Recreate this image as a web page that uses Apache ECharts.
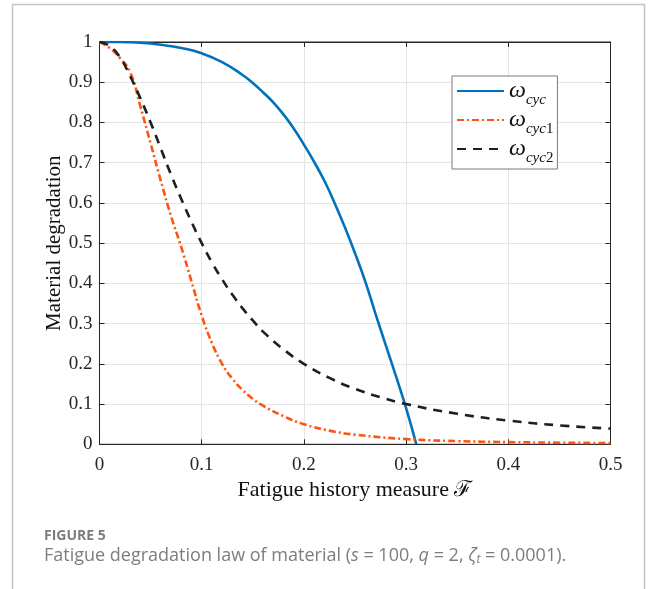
<!DOCTYPE html>
<html>
<head>
<meta charset="utf-8">
<script src="https://cdn.jsdelivr.net/npm/echarts@6/dist/echarts.min.js"></script>
<style>
  html, body { margin: 0; padding: 0; background: #fff; }
  #chart { width: 656px; height: 589px; }
</style>
</head>
<body>
<div id="chart"></div>
<script>
// Fatigue history measure F and degradation values for each law
const cycF  = [0, 0.02, 0.04, 0.06, 0.08, 0.10, 0.12, 0.14, 0.15, 0.16, 0.17, 0.18, 0.19, 0.20, 0.21, 0.22, 0.23, 0.24, 0.25, 0.26, 0.27, 0.28, 0.29, 0.30, 0.31];
const cycW  = [1, 1.0, 0.998, 0.993, 0.985, 0.972, 0.95, 0.918, 0.898, 0.875, 0.85, 0.82, 0.785, 0.745, 0.702, 0.655, 0.6, 0.54, 0.475, 0.405, 0.325, 0.247, 0.17, 0.09, 0.0];

const cyc1F = [0, 0.01, 0.02, 0.03, 0.04, 0.05, 0.06, 0.07, 0.08, 0.09, 0.10, 0.11, 0.12, 0.13, 0.14, 0.15, 0.16, 0.18, 0.20, 0.225, 0.25, 0.30, 0.35, 0.40, 0.45, 0.50];
const cyc1W = [1, 0.985, 0.96, 0.925, 0.84, 0.748, 0.655, 0.567, 0.49, 0.405, 0.32, 0.252, 0.2, 0.163, 0.135, 0.113, 0.096, 0.07, 0.05, 0.034, 0.024, 0.013, 0.008, 0.0055, 0.004, 0.003];

const cyc2F = [0, 0.01, 0.02, 0.03, 0.04, 0.05, 0.06, 0.07, 0.08, 0.09, 0.10, 0.11, 0.12, 0.13, 0.14, 0.15, 0.16, 0.18, 0.20, 0.225, 0.25, 0.275, 0.30, 0.35, 0.40, 0.45, 0.50];
const cyc2W = [1, 0.99, 0.962, 0.915, 0.86, 0.8, 0.735, 0.67, 0.61, 0.553, 0.5, 0.452, 0.41, 0.372, 0.338, 0.308, 0.28, 0.236, 0.2, 0.165, 0.138, 0.117, 0.1, 0.076, 0.059, 0.047, 0.039];

const xTicks = [0, 0.1, 0.2, 0.3, 0.4, 0.5];
const yTicks = [0, 0.1, 0.2, 0.3, 0.4, 0.5, 0.6, 0.7, 0.8, 0.9, 1];

const pairs = (xs, ys) => xs.map((x, i) => [x, ys[i]]);

const SERIF = '"Liberation Serif", "DejaVu Serif", serif';
const SANS = '"Open Sans", "Noto Sans", sans-serif';
const AX = '#262626';

const names = ['ω_cyc', 'ω_cyc1', 'ω_cyc2'];

const legendRich = {
  w: { fontFamily: SERIF, fontStyle: 'italic', fontSize: 24, color: '#111', lineHeight: 20 },
  s: { fontFamily: SERIF, fontStyle: 'italic', fontSize: 15, color: '#111', lineHeight: 20, verticalAlign: 'bottom', padding: [0, 0, -7, 0] },
  n: { fontFamily: SERIF, fontSize: 15, color: '#111', lineHeight: 20, verticalAlign: 'bottom', padding: [0, 0, -7, 0] }
};

const chart = echarts.init(document.getElementById('chart'), null, { renderer: 'canvas' });

chart.setOption({
  animation: false,
  backgroundColor: '#fff',
  grid: { left: 99.5, right: 45.5, top: 42, bottom: 144.7, containLabel: false,
          show: true, borderColor: AX, borderWidth: 1, backgroundColor: 'transparent' },
  xAxis: [{
    type: 'value', min: 0, max: 0.5, interval: 0.1, position: 'bottom',
    name: 'Fatigue history measure ℱ', nameLocation: 'middle', nameGap: 31,
    nameTextStyle: { fontFamily: SERIF, fontSize: 22, color: '#111' },
    axisLine: { show: true, onZero: false, lineStyle: { color: AX, width: 1 } },
    axisTick: { show: true, inside: true, length: 5, lineStyle: { color: AX } },
    axisLabel: { fontFamily: SERIF, fontSize: 19, color: AX, margin: 11,
      formatter: v => { const r = +v.toFixed(1); return xTicks.includes(r) ? String(r) : ''; } },
    splitLine: { show: true, lineStyle: { color: '#e4e4e4', width: 1 } }
  }, {
    type: 'value', min: 0, max: 0.5, interval: 0.1, position: 'top',
    axisLine: { show: true, onZero: false, lineStyle: { color: AX, width: 1 } },
    axisTick: { show: true, inside: true, length: 5, lineStyle: { color: AX } },
    axisLabel: { show: false }, splitLine: { show: false }
  }],
  yAxis: [{
    type: 'value', min: 0, max: 1, interval: 0.1, position: 'left',
    name: 'Material degradation', nameLocation: 'middle', nameGap: 35, nameMoveOverlap: false,
    nameTextStyle: { fontFamily: SERIF, fontSize: 21, color: '#111' },
    axisLine: { show: true, onZero: false, lineStyle: { color: AX, width: 1 } },
    axisTick: { show: true, inside: true, length: 5, lineStyle: { color: AX } },
    axisLabel: { fontFamily: SERIF, fontSize: 19, color: AX, margin: 7,
      formatter: v => { const r = +v.toFixed(1); return yTicks.includes(r) ? String(r) : ''; } },
    splitLine: { show: true, lineStyle: { color: '#e4e4e4', width: 1 } }
  }, {
    type: 'value', min: 0, max: 1, interval: 0.1, position: 'right',
    axisLine: { show: true, onZero: false, lineStyle: { color: AX, width: 1 } },
    axisTick: { show: true, inside: true, length: 5, lineStyle: { color: AX } },
    axisLabel: { show: false }, splitLine: { show: false }
  }],
  legend: {
    orient: 'vertical', left: 452, top: 76,
    itemWidth: 47, itemHeight: 14, itemGap: 0,
    padding: [3, 4, 3, 4],
    backgroundColor: '#fff', borderColor: '#7a7a7a', borderWidth: 1,
    itemStyle: { opacity: 0 },
    data: names,
    formatter: n => n === 'ω_cyc' ? '{w|ω}{s|cyc}' : (n === 'ω_cyc1' ? '{w|ω}{s|cyc}{n|1}' : '{w|ω}{s|cyc}{n|2}'),
    textStyle: { rich: legendRich }
  },
  series: [{
    name: names[0], type: 'line', data: pairs(cycF, cycW),
    smooth: true, showSymbol: false, symbol: 'none',
    lineStyle: { color: '#0072BD', width: 2.6, type: 'solid' },
    itemStyle: { color: '#0072BD' }, z: 3
  }, {
    name: names[1], type: 'line', data: pairs(cyc1F, cyc1W),
    smooth: true, showSymbol: false, symbol: 'none',
    lineStyle: { color: '#FF5312', width: 2.6, type: [7, 3, 2, 3] },
    itemStyle: { color: '#FF5312' }, z: 4
  }, {
    name: names[2], type: 'line', data: pairs(cyc2F, cyc2W),
    smooth: true, showSymbol: false, symbol: 'none',
    lineStyle: { color: '#1f1f1f', width: 2.6, type: [9, 7] },
    itemStyle: { color: '#1f1f1f' }, z: 5
  }],
  graphic: [{
    type: 'rect', silent: true, z: -10,
    shape: { x: 12.5, y: 4.5, width: 632, height: 600 },
    style: { fill: 'none', stroke: '#c4c4c4', lineWidth: 1.5 }
  }, {
    type: 'text', left: 44, top: 529,
    style: { text: 'FIGURE 5', fontFamily: SANS, fontWeight: 'bold', fontSize: 14, fill: '#7d7d7d' }
  }, {
    type: 'text', left: 44, top: 546,
    style: {
      text: '{t|Fatigue degradation law of material (}{i|s}{t| = 100, }{i|q}{t| = 2, }{i|ζ}{b|t}{t| = 0.0001).}',
      rich: {
        t: { fontFamily: SANS, fontSize: 18, fill: '#7d7d7d', lineHeight: 22 },
        i: { fontFamily: SANS, fontStyle: 'italic', fontSize: 18, fill: '#7d7d7d', lineHeight: 22 },
        b: { fontFamily: SANS, fontStyle: 'italic', fontSize: 12, fill: '#7d7d7d', padding: [8, 0, 0, 0], lineHeight: 22 }
      }
    }
  }]
});
</script>
</body>
</html>
